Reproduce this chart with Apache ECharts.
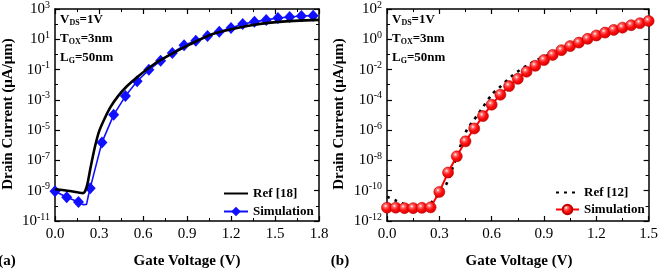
<!DOCTYPE html>
<html>
<head>
<meta charset="utf-8">
<script src="https://cdn.jsdelivr.net/npm/echarts@6/dist/echarts.min.js"></script>
<style>
html,body{margin:0;padding:0;background:#fff;}
#c{width:661px;height:269px;}
</style>
</head>
<body>
<div id="c"></div>
<script>
// ---------- Data (currents shown as log10 of I in µA/µm) ----------
// Panel (a)
const refA_V   = [0, 0.10, 0.19, 0.205, 0.22, 0.24, 0.27, 0.30, 0.34, 0.38, 0.43, 0.49, 0.57, 0.67, 0.77, 0.92, 1.08, 1.31, 1.53, 1.80];
const refA_log = [-8.9, -9.02, -9.16, -9.05, -8.6, -7.6, -6.2, -5.1, -4.2, -3.45, -2.75, -2.1, -1.42, -0.68, -0.1, 0.66, 1.36, 1.88, 2.15, 2.28];
const simA_V   = [0, 0.08, 0.16, 0.24, 0.32, 0.40, 0.48, 0.56, 0.64, 0.72, 0.80, 0.88, 0.96, 1.04, 1.12, 1.20, 1.28, 1.36, 1.44, 1.52, 1.60, 1.68, 1.76];
const simA_log = [-9.03, -9.43, -9.75, -8.83, -5.81, -3.99, -2.75, -1.77, -1.02, -0.42, 0.10, 0.60, 0.90, 1.22, 1.49, 1.75, 2.01, 2.15, 2.28, 2.41, 2.47, 2.54, 2.56];
// extra points of the simulated line between markers (no marker drawn)
const simALine_V   = [0.19, 0.215, 0.228];
const simALine_log = [-9.92, -9.9, -9.3];

// Panel (b)
const refB_V   = [0, 0.05, 0.10, 0.15, 0.20, 0.24, 0.267, 0.30, 0.339, 0.373, 0.424, 0.453, 0.472, 0.49, 0.519, 0.547, 0.604, 0.642, 0.718, 0.756, 0.80, 0.85, 0.935, 0.983, 1.04, 1.10, 1.20, 1.30, 1.40, 1.50];
const refB_log = [-10.4, -10.65, -10.9, -11.1, -11.2, -11.0, -10.6, -10.2, -9.6, -8.6, -6.95, -6.1, -5.75, -5.45, -5.0, -4.53, -3.61, -3.21, -2.40, -2.08, -1.75, -1.42, -0.98, -0.65, -0.32, -0.08, 0.30, 0.66, 0.97, 1.24];
const simB_V   = [0, 0.05, 0.10, 0.15, 0.20, 0.25, 0.30, 0.35, 0.40, 0.45, 0.50, 0.55, 0.60, 0.65, 0.70, 0.75, 0.80, 0.85, 0.90, 0.95, 1.00, 1.05, 1.10, 1.15, 1.20, 1.25, 1.30, 1.35, 1.40, 1.45, 1.50];
const simB_log = [-11.12, -11.12, -11.15, -11.15, -11.13, -11.1, -10.08, -8.8, -7.73, -6.74, -5.89, -5.07, -4.32, -3.66, -3.09, -2.61, -2.14, -1.75, -1.37, -1.03, -0.72, -0.45, -0.22, 0.03, 0.25, 0.44, 0.62, 0.77, 0.93, 1.06, 1.21];

// Axis ticks
const xTicksA = {min: 0, max: 1.8, step: 0.3};
const xTicksB = {min: 0, max: 1.5, step: 0.3};
const yTicksA = {min: -11, max: 3, step: 2};
const yTicksB = {min: -12, max: 2, step: 2};

// ---------- Build ----------
const FONT = 'Liberation Serif';
const zip = (a, b) => a.map((v, i) => [v, b[i]]);

const simAData = zip(simA_V, simA_log).map(p => ({value: p}))
  .concat(zip(simALine_V, simALine_log).map(p => ({value: p, symbol: 'none'})))
  .sort((p, q) => p.value[0] - q.value[0]);

function xAxisCfg(grid, t, pos) {
  const main = pos === 'bottom';
  return {
    type: 'value', gridIndex: grid, position: pos, min: t.min, max: t.max, interval: t.step,
    axisLine: {show: true, onZero: false, lineStyle: {color: '#000', width: 1.5}},
    axisTick: {show: true, inside: true, length: 5, lineStyle: {color: '#000', width: 1.2}},
    minorTick: {show: true, splitNumber: 2, length: 3, lineStyle: {color: '#000', width: 1}},
    splitLine: {show: false},
    axisLabel: {show: main, color: '#000', fontFamily: FONT, fontSize: 15, margin: 6,
      formatter: v => v.toFixed(1)}
  };
}
function yAxisCfg(grid, t, pos) {
  const main = pos === 'left';
  return {
    type: 'value', gridIndex: grid, position: pos, min: t.min, max: t.max, interval: t.step,
    axisLine: {show: true, onZero: false, lineStyle: {color: '#000', width: 1.5}},
    axisTick: {show: true, inside: true, length: 5, lineStyle: {color: '#000', width: 1.2}},
    minorTick: {show: true, splitNumber: 2, length: 3, lineStyle: {color: '#000', width: 1}},
    splitLine: {show: false},
    axisLabel: {show: main, color: '#000', fontFamily: FONT, margin: 5,
      formatter: v => '{b|10}{s|' + v + '}',
      rich: {
        b: {fontFamily: FONT, fontSize: 15, color: '#000', lineHeight: 18},
        s: {fontFamily: FONT, fontSize: 10, color: '#000', verticalAlign: 'top', lineHeight: 12}
      }}
  };
}

const redBall = {
  type: 'radial', x: 0.38, y: 0.35, r: 0.65,
  colorStops: [
    {offset: 0, color: '#ffffff'},
    {offset: 0.22, color: '#ff6a6a'},
    {offset: 0.55, color: '#ff1010'},
    {offset: 1, color: '#d80000'}
  ]
};

function label(text, x, y, extra) {
  return Object.assign({
    type: 'text', x: x, y: y,
    style: {text: text, fill: '#000', font: 'bold 15px "' + FONT + '"', textAlign: 'center', textVerticalAlign: 'middle'}
  }, extra || {});
}
function cond(x, y, main, sub, rest) {
  return {
    type: 'text', x: x, y: y,
    style: {
      text: '{m|' + main + '}{s|' + sub + '}{m|' + rest + '}',
      textVerticalAlign: 'middle',
      rich: {
        m: {fontFamily: FONT, fontWeight: 'bold', fontSize: 13, fill: '#000', lineHeight: 14},
        s: {fontFamily: FONT, fontWeight: 'bold', fontSize: 8, fill: '#000', verticalAlign: 'bottom', lineHeight: 8, padding: [6, 0, 0, 0]}
      }
    }
  };
}

const legendText = {fontFamily: FONT, fontWeight: 'bold', fontSize: 13, color: '#000'};

const option = {
  animation: false,
  backgroundColor: '#fff',
  grid: [
    {left: 55, top: 8, width: 264, height: 213},
    {left: 387, top: 8, width: 264, height: 213}
  ],
  xAxis: [
    xAxisCfg(0, xTicksA, 'bottom'), xAxisCfg(0, xTicksA, 'top'),
    xAxisCfg(1, xTicksB, 'bottom'), xAxisCfg(1, xTicksB, 'top')
  ],
  yAxis: [
    yAxisCfg(0, yTicksA, 'left'), yAxisCfg(0, yTicksA, 'right'),
    yAxisCfg(1, yTicksB, 'left'), yAxisCfg(1, yTicksB, 'right')
  ],
  legend: [
    {data: [{name: 'Ref [18]', itemStyle: {opacity: 0}}, 'Simulation'], orient: 'vertical', left: 223, top: 187, padding: 0,
     itemWidth: 24, itemHeight: 12, itemGap: 5, textStyle: legendText, selectedMode: false},
    {data: [{name: 'Ref [12]', itemStyle: {opacity: 0}}, 'Simulation (b)'], orient: 'vertical', left: 555, top: 186, padding: 0,
     itemWidth: 23, itemHeight: 12, itemGap: 4, textStyle: legendText, selectedMode: false,
     formatter: n => n.replace(' (b)', '')}
  ],
  series: [
    {name: 'Ref [18]', type: 'line', xAxisIndex: 0, yAxisIndex: 0, data: zip(refA_V, refA_log),
     smooth: 0.25, symbol: 'none', lineStyle: {color: '#000', width: 2.6}, itemStyle: {color: '#000'}, z: 3},
    {name: 'Simulation', type: 'line', xAxisIndex: 0, yAxisIndex: 0, data: simAData,
     symbol: 'diamond', symbolSize: [11, 12], lineStyle: {color: '#1010ff', width: 1.6},
     itemStyle: {color: '#1010ff'}, z: 2},
    {name: 'Ref [12]', type: 'line', xAxisIndex: 2, yAxisIndex: 2, data: zip(refB_V, refB_log),
     smooth: 0.3, symbol: 'none', lineStyle: {color: '#000', width: 2.6, type: [3, 5]}, itemStyle: {color: '#000'}, z: 2},
    {name: 'Simulation (b)', type: 'line', xAxisIndex: 2, yAxisIndex: 2, data: zip(simB_V, simB_log),
     symbol: 'circle', symbolSize: 11, lineStyle: {color: '#ff0000', width: 2},
     itemStyle: {color: redBall, borderColor: '#c00000', borderWidth: 0.6}, z: 3}
  ],
  graphic: [
    label('Drain Current (\u03bcA/\u03bcm)', 8, 114, {rotation: Math.PI / 2}),
    label('Drain Current (\u03bcA/\u03bcm)', 339, 114, {rotation: Math.PI / 2}),
    label('Gate Voltage (V)', 187, 261),
    label('Gate Voltage (V)', 519, 261),
    label('(a)', 7, 261),
    label('(b)', 340, 261),
    cond(60, 20, 'V', 'DS', '=1V'),
    cond(60, 39, 'T', 'OX', '=3nm'),
    cond(60, 58, 'L', 'G', '=50nm'),
    cond(392, 20, 'V', 'DS', '=1V'),
    cond(392, 39, 'T', 'OX', '=3nm'),
    cond(392, 58, 'L', 'G', '=50nm')
  ]
};

const chart = echarts.init(document.getElementById('c'), null, {renderer: 'canvas'});
chart.setOption(option);
</script>
</body>
</html>
